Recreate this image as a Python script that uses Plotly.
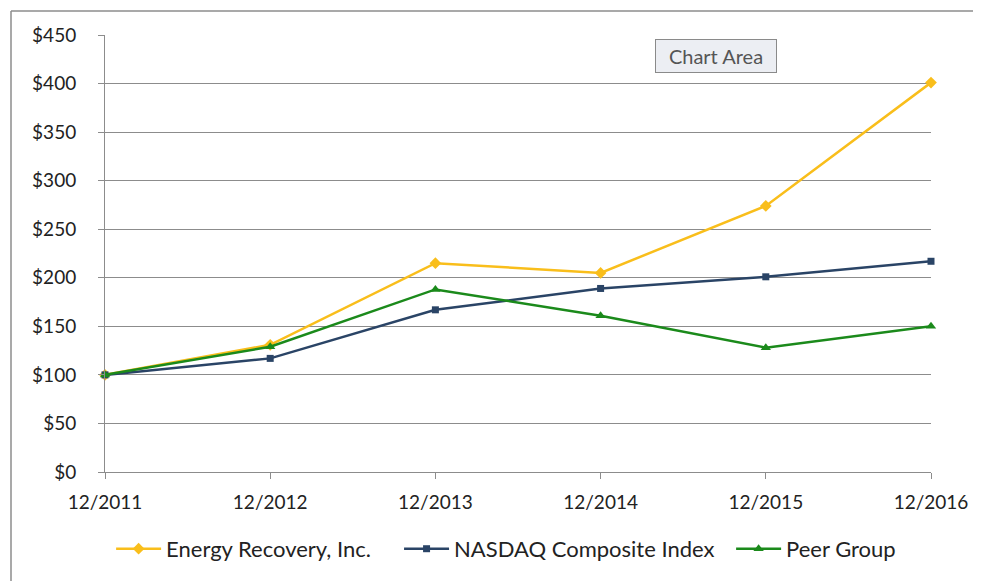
import plotly.graph_objects as go

years = ["12/2011", "12/2012", "12/2013", "12/2014", "12/2015", "12/2016"]
energy_recovery = [100, 131, 215, 205, 274, 401]
nasdaq = [100, 117, 167, 189, 201, 217]
peer_group = [100, 129, 188, 161, 128, 150]
y_ticks = [0, 50, 100, 150, 200, 250, 300, 350, 400, 450]
y_labels = ["$" + str(v) for v in y_ticks]

FONT = "Lato"
fig = go.Figure()
series = [
    ("Energy Recovery, Inc.", energy_recovery, "#F9BE1B", "diamond", 9, "legend", 0.0074),
    ("NASDAQ Composite Index", nasdaq, "#2A4466", "square", 7, "legend2", 0.356),
    ("Peer Group", peer_group, "#1B8A1B", "triangle-up", 9, "legend3", 0.758),
]
legends = {}
for name, vals, col, sym, sz, lg, lx in series:
    fig.add_trace(go.Scatter(
        x=list(range(len(years))), y=vals, name=name, mode="lines+markers",
        line=dict(color=col, width=2.5),
        marker=dict(color=col, symbol=sym, size=sz),
        cliponaxis=False, legend=lg,
    ))
    legends[lg] = dict(orientation="h", x=lx, xanchor="left", y=-0.176, yanchor="middle",
                       font=dict(size=22, color="#222", family=FONT), itemwidth=45,
                       bgcolor="rgba(0,0,0,0)")

fig.update_layout(
    width=981, height=581,
    margin=dict(l=97, r=58, t=27, b=117),
    plot_bgcolor="white", paper_bgcolor="white",
    font=dict(family=FONT, size=19, color="#222"),
    showlegend=True,
    xaxis=dict(
        range=[0, 5], tickmode="array", tickvals=list(range(len(years))), ticktext=years,
        showgrid=False, zeroline=False, showline=True, linecolor="#8c8c8c", linewidth=1,
        ticks="outside", ticklen=6, tickcolor="#8c8c8c", ticklabelstandoff=7,
    ),
    yaxis=dict(
        range=[0, 450], tickmode="array", tickvals=y_ticks, ticktext=y_labels,
        showgrid=True, gridcolor="#8c8c8c", gridwidth=1, zeroline=False,
        showline=True, linecolor="#8c8c8c", linewidth=1,
        ticks="outside", ticklen=6, tickcolor="#8c8c8c", ticklabelstandoff=18,
    ),
    shapes=[
        dict(type="line", xref="paper", yref="paper", x0=-0.1138, x1=-0.1138, y0=1.0549, y1=-0.30,
             line=dict(color="#8c8c8c", width=1.5)),
        dict(type="line", xref="paper", yref="paper", x0=-0.1138, x1=1.08, y0=1.0549, y1=1.0549,
             line=dict(color="#8c8c8c", width=1.5)),
    ],
    annotations=[
        dict(text="Chart Area", xref="paper", yref="paper", x=0.7397, y=0.952,
             xanchor="center", yanchor="middle", showarrow=False,
             font=dict(size=20, color="#555", family=FONT), width=114, height=26,
             bgcolor="#eceef3", bordercolor="#8a8a8a", borderwidth=1, borderpad=3),
    ],
    **legends,
)
fig.write_html("out.html")
